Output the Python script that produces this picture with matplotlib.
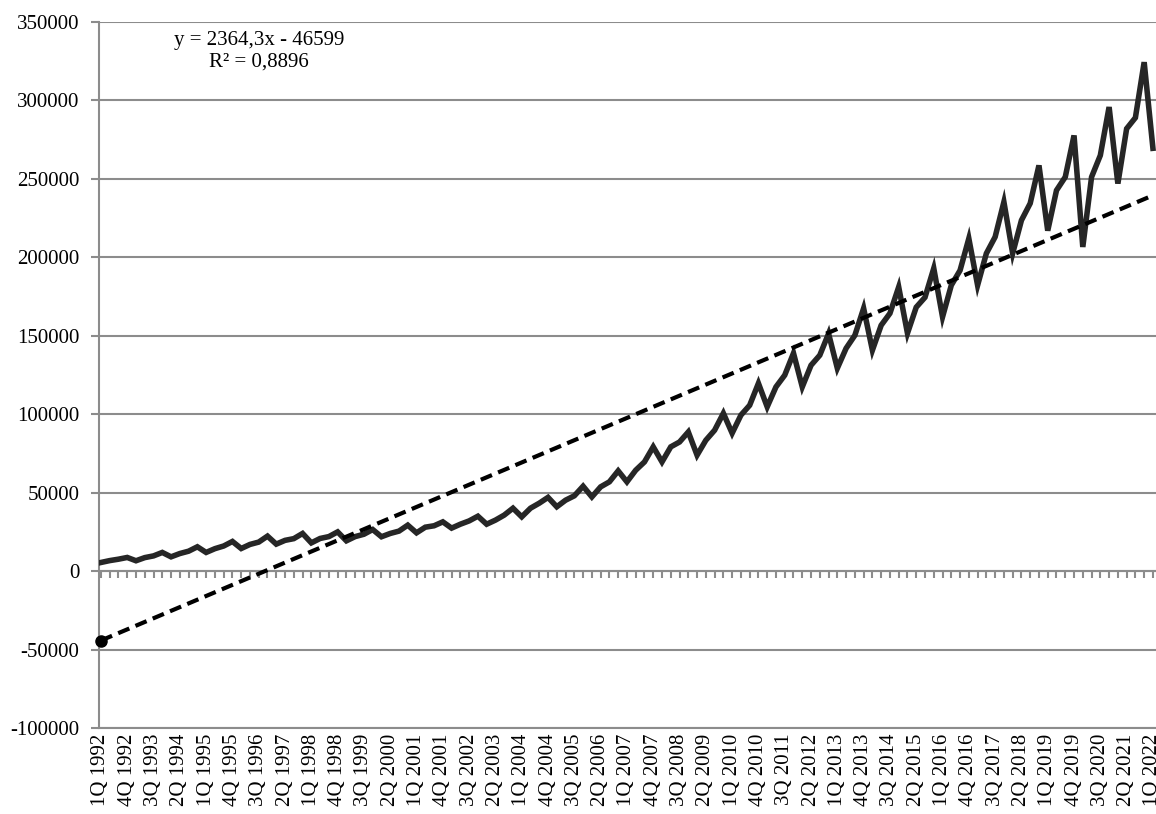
import matplotlib
matplotlib.use("Agg")
import matplotlib.pyplot as plt
import numpy as np

years = list(range(1992, 2023))
quarter_names = ["1Q", "2Q", "3Q", "4Q"]

values = [
    5500, 6700, 7600, 8700,          # 1992
    6600, 8600, 9700, 11900,         # 1993
    9100, 11200, 12700, 15500,       # 1994
    11900, 14300, 16000, 18900,      # 1995
    14400, 17000, 18500, 22300,      # 1996
    17200, 19600, 20700, 24000,      # 1997
    18000, 20800, 22000, 25000,      # 1998
    19300, 22000, 23500, 26500,      # 1999
    21900, 24000, 25500, 29300,      # 2000
    24400, 28000, 28900, 31400,      # 2001
    27400, 29900, 32000, 35000,      # 2002
    29900, 32500, 35700, 40100,      # 2003
    34600, 40100, 43300, 47000,      # 2004
    41000, 45200, 48000, 54100,      # 2005
    47300, 53700, 56900, 63900,      # 2006
    56900, 64300, 69600, 79200,      # 2007
    69600, 79200, 82300, 88700,      # 2008
    73900, 83400, 89800, 100600,     # 2009
    87900, 99400, 105700, 119700,    # 2010
    104700, 117400, 124900, 138900,  # 2011
    117400, 131200, 137600, 151400,  # 2012
    129300, 142000, 150300, 167500,  # 2013
    140800, 156700, 164300, 181100,  # 2014
    151600, 168200, 174500, 193000,  # 2015
    162000, 182200, 191700, 212000,  # 2016
    182200, 202500, 213000, 235300,  # 2017
    202500, 223600, 234400, 258600,  # 2018
    217000, 242700, 251200, 277700,  # 2019
    206600, 251200, 265000, 295800,  # 2020
    247000, 282000, 289000, 324400,  # 2021
    269500,                          # 2022 Q1
]

trend_slope = 2364.3
trend_intercept = -46599
trend_text = "y = 2364,3x - 46599\nR² = 0,8896"

categories = []
for y in years:
    for q in quarter_names:
        categories.append(f"{q} {y}")
categories = categories[:len(values)]

x = np.arange(1, len(values) + 1)
trend = trend_slope * x + trend_intercept

plt.rcParams['font.family'] = ['Liberation Serif', 'DejaVu Serif']

fig = plt.figure(figsize=(11.56, 8.14), dpi=100)
ax = fig.add_axes([99 / 1156, 1 - 728 / 814, 1 - 99 / 1156, (728 - 22) / 814])

grid_c = "#8c8c8c"
ax.set_ylim(-100000, 350000)
ax.set_xlim(0.78, 121.35)
ax.set_yticks(np.arange(-100000, 350001, 50000))
ax.set_yticklabels([f"{int(v)}" for v in np.arange(-100000, 350001, 50000)], fontsize=15)
ax.yaxis.grid(True, color=grid_c, linewidth=1.5)
ax.set_axisbelow(True)
for s in ["top", "right"]:
    ax.spines[s].set_visible(False)
for s in ["left", "bottom"]:
    ax.spines[s].set_color(grid_c)
    ax.spines[s].set_linewidth(1.5)
ax.tick_params(axis="y", direction="out", length=6, width=1.5, color=grid_c, pad=8)

ax.set_xticks(x[::3])
ax.set_xticklabels(categories[::3], rotation=90, fontsize=15)
ax.tick_params(axis="x", length=0, pad=4)

sec = ax.secondary_xaxis(2 / 9)
sec.set_xticks(x)
sec.set_xticklabels([])
sec.tick_params(axis="x", direction="out", length=5, width=1.5, color=grid_c)
sec.spines["bottom"].set_color(grid_c)
sec.spines["bottom"].set_linewidth(1.5)

ax.plot(x, values, color="#262626", linewidth=4.0, solid_joinstyle="miter", zorder=3)
ax.plot(x, trend, color="black", linewidth=3.0, linestyle=(0, (2.9, 1.6)), zorder=4)
ax.plot([x[0]], [trend[0]], marker="o", color="black", markersize=8, zorder=5, clip_on=False)

fig.text(259 / 1156, 1 - 51 / 814, trend_text, ha="center", va="center", fontsize=15,
         linespacing=1.2)

fig.savefig("out.png", dpi=100)
